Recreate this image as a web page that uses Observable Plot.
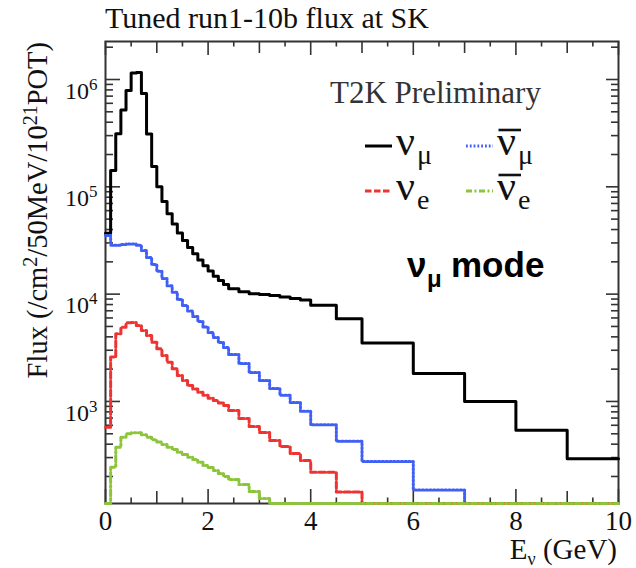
<!DOCTYPE html>
<html><head><meta charset="utf-8">
<script src="https://cdn.jsdelivr.net/npm/d3@7"></script>
<script src="https://cdn.jsdelivr.net/npm/@observablehq/plot@0.6"></script>
<style>
body{margin:0;background:#fff;}
#wrap{position:relative;width:636px;height:568px;overflow:hidden;background:#fff;}
#title{height:36px;font-family:"Liberation Serif",serif;font-size:30px;line-height:36px;padding-left:105px;color:#111;white-space:nowrap;}
#chart svg{display:block;overflow:visible;}
</style></head><body>
<div id="wrap"><div id="title">Tuned run1-10b flux at SK</div><div id="chart"></div></div>
<script>
// Bin edges (GeV)
const edges = [0,0.1,0.2,0.3,0.4,0.5,0.6,0.7,0.8,0.9,1.0,1.1,1.2,1.3,1.4,1.5,1.6,1.7,1.8,1.9,2.0,2.1,2.2,2.3,2.4,2.6,2.8,3.0,3.2,3.4,3.6,3.8,4.0,4.5,5,6,7,8,9,10];
// Flux per bin (/cm^2/50MeV/10^21 POT)
const numu = [3.7e4,1.42e5,3.13e5,5.2e5,7.9e5,1.15e6,1.16e6,7.4e5,3.1e5,1.55e5,1.0e5,7.3e4,5.6e4,4.5e4,3.72e4,3.16e4,2.72e4,2.38e4,2.08e4,1.84e4,1.64e4,1.47e4,1.34e4,1.23e4,1.12e4,1.05e4,1.01e4,9.9e3,9.7e3,9.4e3,9.1e3,8.8e3,7.9e3,5.9e3,3.5e3,1.82e3,1.0e3,540,292];
const numubar = [3.52e4,2.85e4,2.85e4,2.9e4,2.94e4,2.94e4,2.85e4,2.55e4,2.2e4,1.89e4,1.63e4,1.4e4,1.2e4,1.04e4,8.93e3,7.85e3,6.97e3,6.2e3,5.57e3,4.95e3,4.4e3,3.95e3,3.55e3,3.19e3,2.74e3,2.26e3,1.86e3,1.57e3,1.32e3,1.14e3,979,810,607,426,276,150,0,0,0];
const nue = [575,2.59e3,4.27e3,4.92e3,5.4e3,5.45e3,5.1e3,4.59e3,4.12e3,3.57e3,3.1e3,2.68e3,2.32e3,2.02e3,1.75e3,1.57e3,1.41e3,1.31e3,1.22e3,1.14e3,1.07e3,1.02e3,968,918,824,694,585,514,433,381,328,282,219,143,0,0,0,0,0];
const nuebar = [0,244,375,465,500,511,511,489,465,440,418,397,375,357,337,320,302,288,272,253,242,227,213,200,187,168,145,125,0,0,0,0,0,0,0,0,0,0,0];
// Tick values
const xTickLabels = [0,2,4,6,8,10];
const xTicksOdd = [1,3,5,7,9];
const xTicksHalf = [0.5,1.5,2.5,3.5,4.5,5.5,6.5,7.5,8.5,9.5];
const yTickLabels = [1e3,1e4,1e5,1e6];
const yMinorTicks = [200,300,400,500,600,700,800,900,2e3,3e3,4e3,5e3,6e3,7e3,8e3,9e3,2e4,3e4,4e4,5e4,6e4,7e4,8e4,9e4,2e5,3e5,4e5,5e5,6e5,7e5,8e5,9e5,2e6];

const W = 636, H = 532;
const mL = 105, mR = 18, mT = 5, mB = 65;
const FH = H - mT - mB, FW = W - mL - mR;
const YMIN = 112, YMAX = 2.26e6;
const SERIF = '"Liberation Serif", "DejaVu Serif", serif';
const BLUE_DASH = "1.8,2", RED_DASH = "6.5,2.5", GREEN_DASH = "6,2.5,2,2.5";

function pts(vals) {
  const p = vals.map((v, i) => ({x: edges[i], v}));
  p.push({x: edges[edges.length - 1], v: vals[vals.length - 1]});
  return p;
}
const yv = d => Math.max(d.v, YMIN);
const tk = {stroke: "#333", strokeWidth: 1.6};

const marks = [Plot.frame({stroke: "#333", strokeWidth: 2})];
for (const [vals, len] of [[xTickLabels, 14], [xTicksOdd, 12], [xTicksHalf, 5.5]]) {
  marks.push(Plot.ruleX(vals, {x: d => d, insetTop: FH - len, ...tk}));
  marks.push(Plot.ruleX(vals, {x: d => d, insetBottom: FH - len, ...tk}));
}
for (const [vals, lenL, lenR] of [[yTickLabels, 15, 12], [yMinorTicks, 8, 7]]) {
  marks.push(Plot.ruleY(vals, {y: d => d, insetRight: FW - lenL, ...tk}));
  marks.push(Plot.ruleY(vals, {y: d => d, insetLeft: FW - lenR, ...tk}));
}
const series = [
  [numu, "#000000", null],
  [numubar, "#3f5ff5", BLUE_DASH],
  [nue, "#ee3333", RED_DASH],
  [nuebar, "#8cc43a", GREEN_DASH]
];
for (const [vals, color, dash] of series) {
  marks.push(Plot.line(pts(vals), {x: "x", y: yv, curve: "step-after", stroke: color, strokeWidth: 3, strokeDasharray: dash}));
}

const plot = Plot.plot({
  width: W, height: H,
  marginLeft: mL, marginRight: mR, marginTop: mT, marginBottom: mB,
  style: {fontFamily: SERIF, fontSize: "27px", color: "#111", background: "white", overflow: "visible"},
  x: {domain: [0, 10], ticks: xTickLabels, tickSize: 0, tickPadding: 7, label: null, tickFormat: d => String(d)},
  y: {type: "log", domain: [YMIN, YMAX], ticks: yTickLabels, tickSize: 0, tickPadding: 8, label: null,
      tickFormat: d => "10^" + Math.round(Math.log10(d))},
  marks
});
document.getElementById("chart").appendChild(plot);

const svg = d3.select(plot);
svg.selectAll("text").each(function() {
  const t = this.textContent;
  const m = /^10\^(\d+)$/.exec(t);
  const s = d3.select(this);
  if (m) {
    s.text("10").attr("font-size", 24).attr("dy", "0.48em");
    s.append("tspan").attr("dy", -9).attr("font-size", 17).text(m[1]);
  } else if (/^\d+$/.test(t)) {
    s.attr("font-size", 27);
  }
});

// Annotations in page coordinates
const g = svg.append("g").attr("transform", "translate(0,-36)").attr("font-family", SERIF)
  .attr("fill", "#111").attr("text-anchor", "start");
// y-axis title
const yl = g.append("text").attr("transform", "translate(46.5,42) rotate(-90)").attr("text-anchor", "end").attr("font-size", 28.5);
yl.append("tspan").text("Flux (/cm");
yl.append("tspan").attr("dy", -10).attr("font-size", 20).text("2");
yl.append("tspan").attr("dy", 10).text("/50MeV/10");
yl.append("tspan").attr("dy", -10).attr("font-size", 20).text("21");
yl.append("tspan").attr("dy", 10).text("POT)");
// x-axis title
const xl = g.append("text").attr("x", 617).attr("y", 559).attr("text-anchor", "end").attr("font-size", 29);
xl.append("tspan").text("E");
xl.append("tspan").attr("dy", 6).attr("font-size", 18).text("ν");
xl.append("tspan").attr("dy", -6).text(" (GeV)");
// T2K Preliminary
g.append("text").attr("x", 330).attr("y", 103).attr("font-size", 31).attr("fill", "#333").text("T2K Preliminary");
// legend
const legend = [
  {sub: "μ", bar: false, color: "#000000", dash: null, col: 0, row: 0},
  {sub: "μ", bar: true, color: "#3f5ff5", dash: BLUE_DASH, col: 1, row: 0},
  {sub: "e", bar: false, color: "#ee3333", dash: RED_DASH, col: 0, row: 1},
  {sub: "e", bar: true, color: "#8cc43a", dash: GREEN_DASH, col: 1, row: 1}
];
for (const L of legend) {
  const x0 = L.col ? 466 : 365;
  const yb = L.row ? 200 : 155;
  g.append("line").attr("x1", x0).attr("x2", x0 + 27).attr("y1", yb - 9).attr("y2", yb - 9)
    .attr("stroke", L.color).attr("stroke-width", 3).attr("stroke-dasharray", L.dash);
  g.append("text").attr("x", x0 + 31).attr("y", yb).attr("font-size", 42).text("ν");
  g.append("text").attr("x", x0 + 52).attr("y", yb + 9).attr("font-size", 28).text(L.sub);
  if (L.bar) g.append("line").attr("x1", x0 + 32.5).attr("x2", x0 + 55).attr("y1", yb - 25).attr("y2", yb - 25)
    .attr("stroke", "#111").attr("stroke-width", 2.6);
}
// nu_mu mode
const mode = g.append("g").attr("font-family", '"Liberation Sans", Arial, sans-serif').attr("font-weight", "bold").attr("fill", "#000");
mode.append("text").attr("x", 407).attr("y", 277).attr("font-size", 35).text("ν");
mode.append("text").attr("x", 427).attr("y", 287).attr("font-size", 24).text("μ");
mode.append("text").attr("x", 451).attr("y", 277).attr("font-size", 35).text("mode");
</script>
</body></html>
